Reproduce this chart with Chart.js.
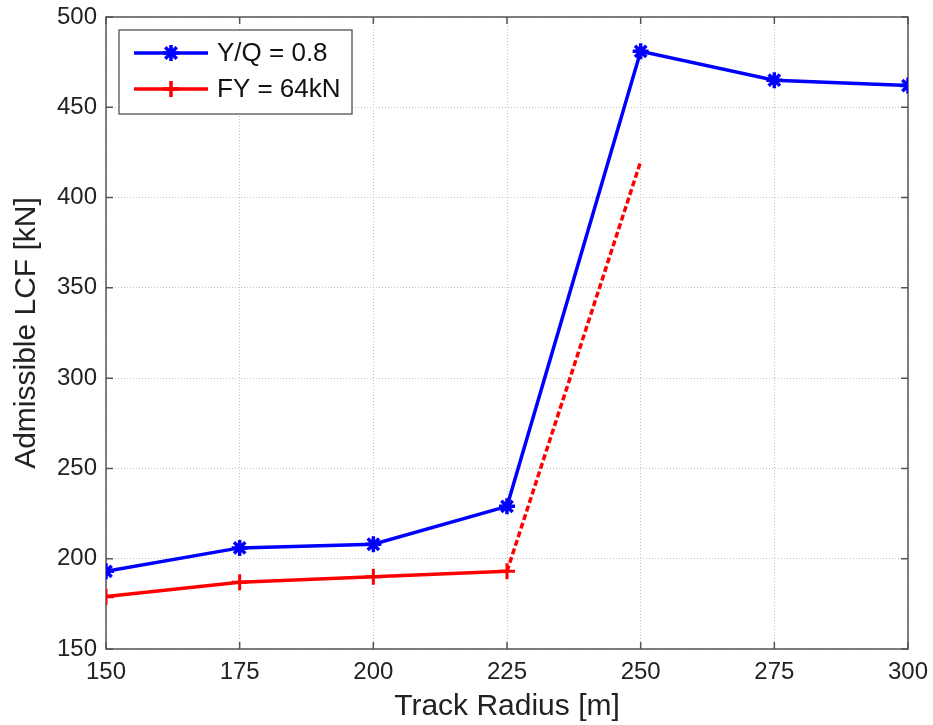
<!DOCTYPE html>
<html>
<head>
<meta charset="utf-8">
<script src="https://cdn.jsdelivr.net/npm/chart.js@4/dist/chart.umd.min.js"></script>
<style>
    html, body { margin: 0; padding: 0; background: #fff; }
    canvas { display: block; }
</style>
</head>
<body>
<canvas id="lcf" width="933" height="725"></canvas>
<script>
"use strict";

const trackRadius = [150, 175, 200, 225, 250, 275, 300];
const yqValues = [193, 206, 208, 229, 481, 465, 462];
const fyRadius = [150, 175, 200, 225, 250];
const fyValues = [179, 187, 190, 193, 420];
const xTicks = [150, 175, 200, 225, 250, 275, 300];
const yTicks = [150, 200, 250, 300, 350, 400, 450, 500];
const seriesNames = ["Y/Q = 0.8", "FY = 64kN"];

const FONT = "'Liberation Sans', Arial, Helvetica, sans-serif";
const BLUE = "#0000ff";
const RED = "#ff0000";

function toPoints(xs, ys) {
    let pts = Array();
    for (let i = 0; i < xs.length; i++) pts.push({ x: xs[i], y: ys[i] });
    return pts;
}

function drawStar(ctx, x, y, r) {
    ctx.beginPath();
    ctx.moveTo(x - r, y); ctx.lineTo(x + r, y);
    ctx.moveTo(x, y - r); ctx.lineTo(x, y + r);
    let d = r * 0.72;
    ctx.moveTo(x - d, y - d); ctx.lineTo(x + d, y + d);
    ctx.moveTo(x - d, y + d); ctx.lineTo(x + d, y - d);
    ctx.stroke();
}

function drawCross(ctx, x, y, r) {
    ctx.beginPath();
    ctx.moveTo(x - r, y); ctx.lineTo(x + r, y);
    ctx.moveTo(x, y - r); ctx.lineTo(x, y + r);
    ctx.stroke();
}

// box around the axes with inward ticks, matlab style
const frame = {
    id: "frame",
    beforeDatasetsDraw(chart) {
        const ctx = chart.ctx;
        const a = chart.chartArea;
        const xs = chart.scales.x, ys = chart.scales.y;
        ctx.save();
        ctx.strokeStyle = "#555";
        ctx.lineWidth = 1.5;
        ctx.strokeRect(a.left, a.top, a.right - a.left, a.bottom - a.top);
        ctx.beginPath();
        xTicks.forEach(function(v) {
            let px = xs.getPixelForValue(v);
            ctx.moveTo(px, a.bottom); ctx.lineTo(px, a.bottom - 7);
            ctx.moveTo(px, a.top); ctx.lineTo(px, a.top + 7);
        });
        yTicks.forEach(function(v) {
            let py = ys.getPixelForValue(v);
            ctx.moveTo(a.left, py); ctx.lineTo(a.left + 7, py);
            ctx.moveTo(a.right, py); ctx.lineTo(a.right - 7, py);
        });
        ctx.stroke();
        ctx.restore();
    },
    afterDraw(chart) {
        const ctx = chart.ctx;
        const bx = 119, by = 30, bw = 233, bh = 84;
        ctx.save();
        ctx.fillStyle = "#fff";
        ctx.fillRect(bx, by, bw, bh);
        ctx.strokeStyle = "#444";
        ctx.lineWidth = 1.2;
        ctx.strokeRect(bx, by, bw, bh);
        const rows = [
            { y: 53, color: BLUE, marker: drawStar },
            { y: 89, color: RED, marker: drawCross }
        ];
        rows.forEach(function(r, i) {
            ctx.strokeStyle = r.color;
            ctx.lineWidth = 3.5;
            ctx.beginPath();
            ctx.moveTo(134, r.y); ctx.lineTo(208, r.y);
            ctx.stroke();
            r.marker(ctx, 171, r.y, 8);
            ctx.fillStyle = "#111";
            ctx.font = "26px " + FONT;
            ctx.textBaseline = "middle";
            ctx.textAlign = "left";
            ctx.fillText(seriesNames[i], 217, r.y + 1);
        });
        ctx.restore();
    }
};

const ctx = document.getElementById("lcf");
new Chart(ctx, {
    type: "line",
    data: {
        datasets: [ {
            label: seriesNames[0],
            data: toPoints(trackRadius, yqValues),
            borderColor: BLUE,
            backgroundColor: BLUE,
            borderWidth: 3.5,
            pointStyle: "star",
            pointRadius: 8,
            pointBorderWidth: 3.5,
            tension: 0
        }, {
            label: seriesNames[1],
            data: toPoints(fyRadius, fyValues),
            borderColor: RED,
            backgroundColor: RED,
            borderWidth: 3.5,
            pointStyle: "cross",
            pointRadius: fyValues.map(function(v, i) { return i === fyValues.length - 1 ? 0 : 8; }),
            pointBorderWidth: 3,
            tension: 0,
            segment: {
                borderDash: function(c) { return c.p0DataIndex === fyValues.length - 2 ? [6, 3] : undefined; }
            }
        } ]
    },
    options: {
        responsive: false,
        animation: { duration: 0 },
        layout: { padding: { top: 17, right: 25, left: 0, bottom: 0 } },
        plugins: {
            legend: { display: false },
            tooltip: { enabled: false }
        },
        scales: {
            x: {
                type: "linear",
                min: 150,
                max: 300,
                afterFit: function(s) { s.height = 76; s.paddingRight = 0; s.paddingLeft = 0; },
                afterBuildTicks: function(s) { s.ticks = xTicks.map(function(v) { return { value: v }; }); },
                grid: { color: "#c4c4c4", drawTicks: false, lineWidth: 1 },
                border: { display: false, dash: [1, 2] },
                ticks: { padding: 9, color: "#222", font: { family: FONT, size: 24 } },
                title: {
                    display: true,
                    text: "Track Radius [m]",
                    color: "#222",
                    font: { family: FONT, size: 30 },
                    padding: { top: 0, bottom: 0 }
                }
            },
            y: {
                min: 150,
                max: 500,
                afterFit: function(s) { s.width = 106; s.paddingTop = 0; s.paddingBottom = 0; },
                afterBuildTicks: function(s) { s.ticks = yTicks.map(function(v) { return { value: v }; }); },
                grid: { color: "#c4c4c4", drawTicks: false, lineWidth: 1 },
                border: { display: false, dash: [1, 2] },
                ticks: { padding: 9, color: "#222", font: { family: FONT, size: 24 } },
                title: {
                    display: true,
                    text: "Admissible LCF [kN]",
                    color: "#222",
                    font: { family: FONT, size: 30 },
                    padding: { top: 9, bottom: 0 }
                }
            }
        }
    },
    plugins: [frame]
});
</script>
</body>
</html>
